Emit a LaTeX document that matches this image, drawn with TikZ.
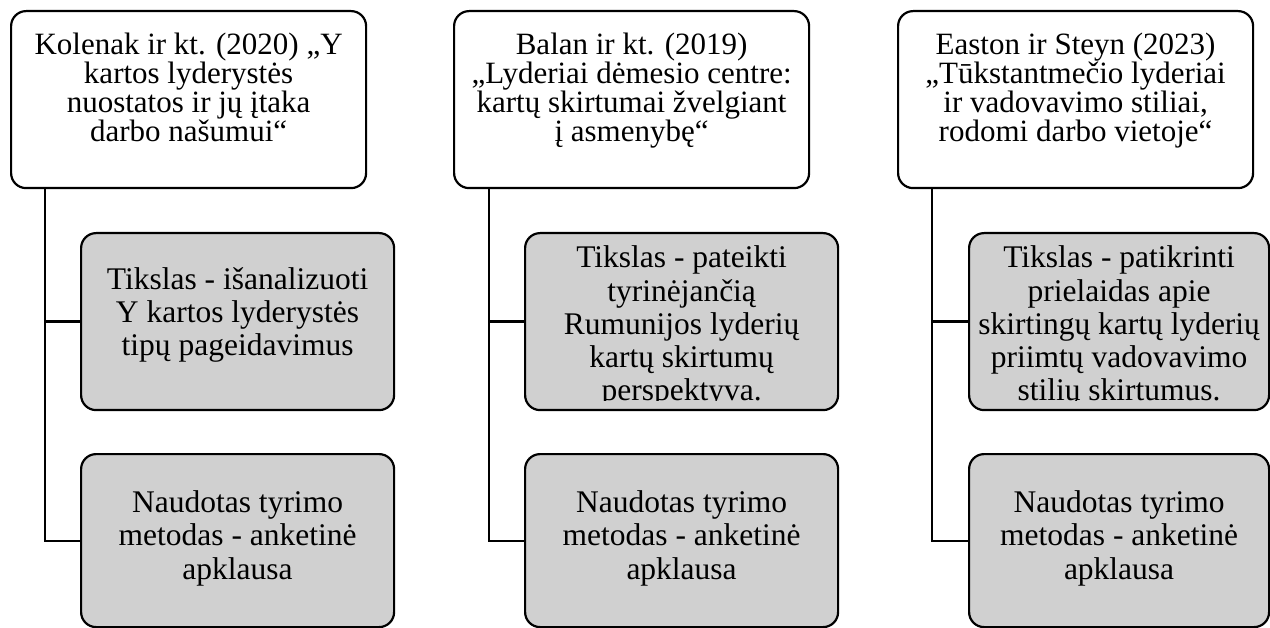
\documentclass[tikz,border=0pt]{standalone}
\usepackage{fontspec}
\setmainfont{Liberation Serif}
\usetikzlibrary{calc}
\definecolor{boxgray}{RGB}{208,208,208}
\begin{document}
\begin{tikzpicture}[x=1pt,y=-1pt,
  topbox/.style={draw, line width=2.2pt, rounded corners=15pt, fill=white,
    minimum width=355pt, minimum height=177pt, inner sep=0pt, anchor=north west},
  graybox/.style={draw, line width=2.2pt, rounded corners=15pt, fill=boxgray,
    minimum width=313pt, minimum height=177pt, inner sep=0pt, anchor=north west},
  toptext/.style={anchor=base, align=center, inner sep=0pt, font=\fontsize{31}{29}\selectfont},
  graytext/.style={anchor=base, align=center, inner sep=0pt, font=\fontsize{31.5}{33.3}\selectfont},
  link/.style={line width=2.2pt}]
\useasboundingbox (0,0) rectangle (1270,628);

% column 1
\node[topbox] (t1) at (10,10) {};
\node[graybox] (g1a) at (80,232) {};
\node[graybox, minimum height=173pt] (g1b) at (80,453) {};
% column 2
\node[topbox] (t2) at (453,10) {};
\node[graybox] (g2a) at (524,232) {};
\node[graybox, minimum height=173pt] (g2b) at (524,453) {};
% column 3
\node[topbox] (t3) at (897,10) {};
\node[graybox, minimum width=300pt] (g3a) at (968,232) {};
\node[graybox, minimum width=300pt, minimum height=173pt] (g3b) at (968,453) {};

% connectors
\coordinate (c1) at ($(t1.south west)+(35,0)$);
\coordinate (c2) at ($(t2.south west)+(36,0)$);
\coordinate (c3) at ($(t3.south west)+(35,0)$);
\draw[link] (c1) |- (g1b.west);
\draw[link] (c1 |- g1a.west) -- (g1a.west);
\draw[link] (c2) |- (g2b.west);
\draw[link] (c2 |- g2a.west) -- (g2a.west);
\draw[link] (c3) |- (g3b.west);
\draw[link] (c3 |- g3a.west) -- (g3a.west);

% texts (base anchor = baseline of last line)
\node[toptext] (t1txt) at ($(t1.north)+(0,132)$) {Kolenak ir kt. (2020) „Y\\kartos lyderystės\\nuostatos ir jų įtaka\\darbo našumui“};
\node[toptext] (t2txt) at ($(t2.north)+(0,132)$) {Balan ir kt. (2019)\\„Lyderiai dėmesio centre:\\kartų skirtumai žvelgiant\\į asmenybę“};
\node[toptext] (t3txt) at ($(t3.north)+(0,132)$) {Easton ir Steyn (2023)\\„Tūkstantmečio lyderiai\\ir vadovavimo stiliai,\\rodomi darbo vietoje“};

\node[graytext] (g1atxt) at ($(g1a.north)+(0,124)$) {Tikslas - išanalizuoti\\Y kartos lyderystės\\tipų pageidavimus};
\node[graytext] (g1btxt) at ($(g1b.north)+(0,126)$) {Naudotas tyrimo\\metodas - anketinė\\apklausa};
\node[graytext] (g2btxt) at ($(g2b.north)+(0,126)$) {Naudotas tyrimo\\metodas - anketinė\\apklausa};
\node[graytext] (g3btxt) at ($(g3b.north)+(0,126)$) {Naudotas tyrimo\\metodas - anketinė\\apklausa};

\begin{scope}
\path[clip] (g2a.north west) rectangle ($(g2a.south east)+(0,-11)$);
\node[graytext] (g2atxt) at ($(g2a.north)+(0,169)$) {Tikslas - pateikti\\tyrinėjančią\\Rumunijos lyderių\\kartų skirtumų\\perspektyva.};
\end{scope}
\begin{scope}
\path[clip] (g3a.north west) rectangle ($(g3a.south east)+(0,-11)$);
\node[graytext] (g3atxt) at ($(g3a.north)+(0,169)$) {Tikslas - patikrinti\\prielaidas apie\\skirtingų kartų lyderių\\priimtų vadovavimo\\stilių skirtumus.};
\end{scope}
\end{tikzpicture}
\end{document}
